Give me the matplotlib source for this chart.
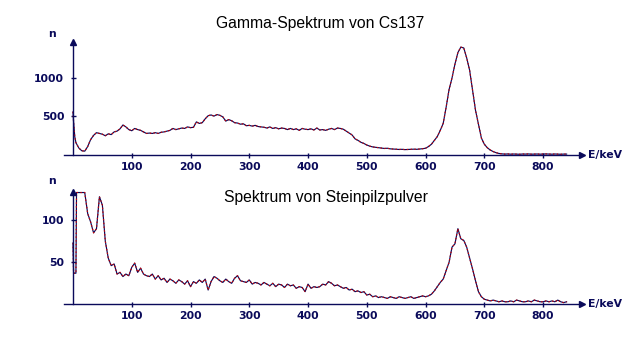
import numpy as np
import matplotlib
matplotlib.use("Agg")
import matplotlib.pyplot as plt

NAVY = "#0a0a5a"
RED = "#cc0000"

# Cs137 spectrum: a few points near 0 keV, then 5 keV channels 5..840
cs_head_e = [0, 1, 3]
cs_head_n = [560, 430, 240]
cs_n = [
    160, 90, 55, 50, 110, 200, 255, 290, 280, 270,          # 5-50
    250, 275, 265, 300, 310, 340, 390, 365, 330, 315,       # 55-100
    345, 330, 320, 300, 280, 285, 280, 290, 280, 295,       # 105-150
    300, 310, 320, 345, 330, 340, 350, 345, 365, 355,       # 155-200
    360, 430, 410, 420, 470, 510, 520, 505, 525, 515,       # 205-250
    495, 440, 460, 445, 420, 415, 400, 405, 380, 385,       # 255-300
    375, 385, 370, 365, 360, 350, 365, 345, 355, 340,       # 305-350
    350, 345, 330, 345, 330, 340, 320, 345, 335, 330,       # 355-400
    340, 325, 350, 325, 330, 320, 335, 345, 330, 350,       # 405-450
    345, 335, 310, 285, 260, 210, 190, 165, 150, 130,       # 455-500
    115, 105, 100, 95, 90, 85, 88, 80, 78, 75,              # 505-550
    72, 74, 70, 72, 75, 76, 74, 78, 82, 88,                 # 555-600
    110, 140, 190, 240, 320, 410, 620, 850, 1000, 1180,     # 605-650
    1330, 1400, 1390, 1260, 1100, 840, 580, 400, 220, 140,  # 655-700
    95, 65, 45, 30, 20, 15, 12, 14, 11, 13,                 # 705-750
    12, 10, 13, 12, 14, 11, 12, 13, 11, 12,                 # 755-800
    14, 12, 11, 13, 12, 10, 12, 12,                         # 805-840
]

# Steinpilzpulver spectrum
sp_head_e = [0, 1, 2, 5, 6]
sp_head_n = [73, 37, 37, 37, 133]
sp_n = [
    133, 133, 133, 108, 98, 85, 90, 128, 118, 75,           # 10-55
    55, 46, 48, 36, 38, 33, 36, 34, 44, 49,                 # 60-105
    38, 43, 36, 34, 33, 36, 30, 34, 29, 31,                 # 110-155
    26, 30, 28, 25, 29, 27, 24, 28, 21, 27,                 # 160-205
    25, 29, 26, 30, 17, 27, 33, 31, 28, 26,                 # 210-255
    30, 27, 25, 31, 34, 28, 27, 26, 29, 24,                 # 260-305
    26, 25, 23, 26, 24, 22, 25, 21, 24, 23,                 # 310-355
    20, 24, 22, 23, 19, 21, 20, 15, 24, 19,                 # 360-405
    21, 20, 21, 24, 23, 27, 25, 22, 23, 21,                 # 410-455
    19, 20, 17, 18, 15, 16, 14, 15, 11, 12,                 # 460-505
    9, 10, 8, 9, 8, 7, 9, 8, 7, 9,                          # 510-555
    8, 7, 8, 9, 7, 8, 9, 10, 9, 10,                         # 560-605
    12, 16, 21, 26, 30, 40, 50, 68, 72, 90,                 # 610-655
    78, 76, 68, 55, 42, 28, 15, 9, 6, 5,                    # 660-705
    4, 5, 4, 3, 4, 3, 3, 4, 3, 5,                           # 710-755
    4, 3, 3, 4, 3, 5, 4, 3, 3, 4,                           # 760-805
    3, 4, 3, 5, 3, 2, 3,                                    # 810-840
]

cs_e = cs_head_e + list(np.arange(5, 845, 5))
cs_all = cs_head_n + cs_n
sp_e = sp_head_e + list(np.arange(10, 845, 5))
sp_all = sp_head_n + sp_n

x_ticks = [100, 200, 300, 400, 500, 600, 700, 800]

panels = [
    dict(title="Gamma-Spektrum von Cs137", e=cs_e, n=cs_all, yticks=[500, 1000],
         rect=[0.1, 0.5571, 0.809, 0.3229], ytop=1467, title_xy=(0.5, 0.92), n_off=8),
    dict(title="Spektrum von Steinpilzpulver", e=sp_e, n=sp_all, yticks=[50, 100],
         rect=[0.1, 0.1306, 0.809, 0.3217], ytop=134, title_xy=(0.509, 0.423), n_off=11),
]

fig = plt.figure(figsize=(6.4, 3.5), dpi=100)

for p in panels:
    ax = fig.add_axes(p["rect"])
    ax.plot(p["e"], p["n"], color=NAVY, lw=0.85, clip_on=False)
    ax.plot(p["e"], p["n"], color=RED, lw=0.85, dashes=(1.2, 2.0), clip_on=False)
    ax.set_xlim(-15.3, 865.8)
    ax.set_ylim(0, p["ytop"])

    for side in ["top", "right"]:
        ax.spines[side].set_visible(False)
    ax.spines["left"].set_position(("data", 0))
    for side in ["left", "bottom"]:
        ax.spines[side].set_color(NAVY)
        ax.spines[side].set_linewidth(1.0)

    ax.plot(1, 0, ">", color=NAVY, ms=5, transform=ax.get_yaxis_transform(), clip_on=False)
    ax.plot(0, 1, "^", color=NAVY, ms=5, transform=ax.get_xaxis_transform(), clip_on=False)

    ax.set_xticks(x_ticks)
    ax.set_yticks(p["yticks"])
    ax.tick_params(direction="inout", length=3.6, width=1.0, color=NAVY,
                   labelcolor=NAVY, labelsize=7.8)
    ax.tick_params(axis="x", pad=3.0)
    ax.tick_params(axis="y", pad=4.5)
    for lab in ax.get_xticklabels() + ax.get_yticklabels():
        lab.set_fontweight("bold")

    ax.annotate("E/keV", xy=(1, 0), xycoords="axes fraction", xytext=(6, 0),
                textcoords="offset pixels", va="center", ha="left",
                color=NAVY, fontsize=7.8, fontweight="bold")
    ax.annotate("n", xy=(0, 1), xycoords=ax.get_xaxis_transform(),
                xytext=(-21, p["n_off"]), textcoords="offset pixels",
                va="center", ha="center", color=NAVY, fontsize=7.8, fontweight="bold")

    fig.text(p["title_xy"][0], p["title_xy"][1], p["title"], ha="center", va="baseline",
             fontsize=11.3, family="Liberation Sans", color="black")

fig.savefig("out.png", dpi=100)
